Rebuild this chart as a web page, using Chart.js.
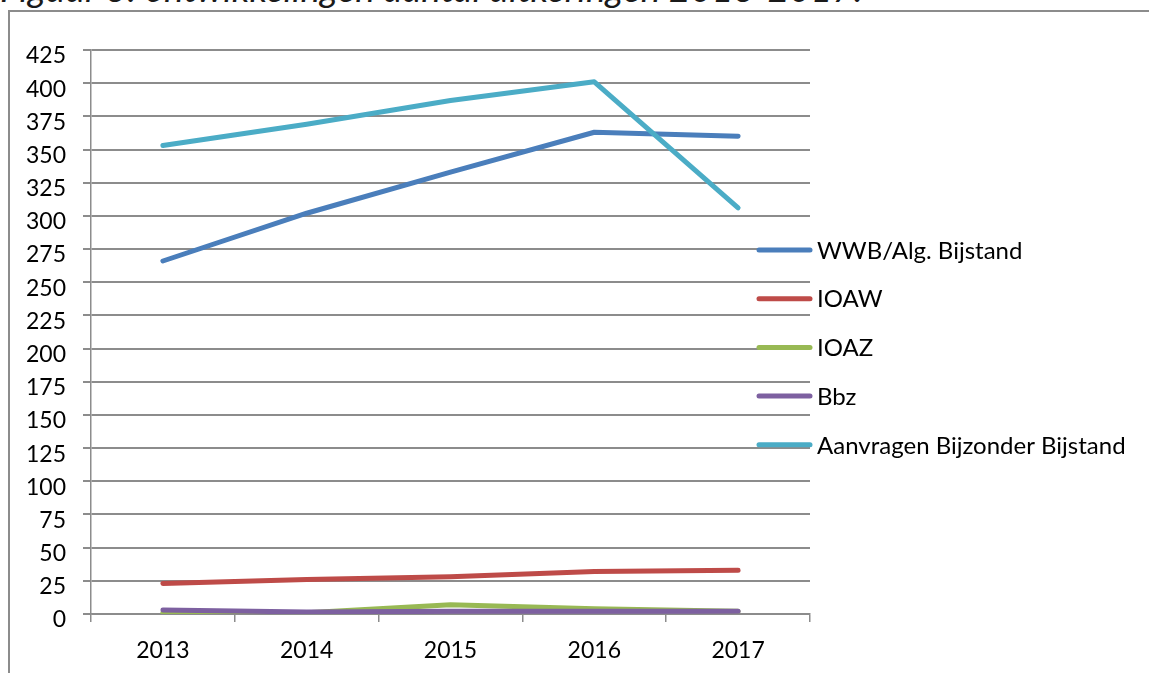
<!DOCTYPE html>
<html>
<head>
<meta charset="utf-8">
<script src="https://cdn.jsdelivr.net/npm/chart.js@4.4.1/dist/chart.umd.min.js"></script>
<style>
  html, body { margin: 0; padding: 0; background: #fff; overflow: hidden; }
  body { width: 1149px; height: 673px; position: relative; }
  #title {
    position: absolute; left: 0; top: -31px; white-space: nowrap;
    font: italic 37px Lato, "Open Sans", sans-serif; color: #1a1a1a; line-height: 1;
  }
  #frame {
    position: absolute; left: 8px; top: 10px; width: 1141px; height: 700px;
    border: 2px solid #8c8c8c; border-right: none; border-bottom: none; box-sizing: border-box;
  }
  #wrap { position: absolute; left: 0; top: 0; width: 1149px; height: 673px; }
</style>
</head>
<body>
<div id="title">Figuur 3: ontwikkelingen aantal uitkeringen 2013-2017.</div>
<div id="frame"></div>
<div id="wrap"><canvas id="chart"></canvas></div>
<script>
// categorieën en reeksen
const years = ['2013', '2014', '2015', '2016', '2017'];
const wwb = [266, 302, 333, 363, 360];
const ioaw = [23, 26, 28, 32, 33];
const ioaz = [1, 1, 7, 4, 2];
const bbz = [3, 1.5, 2, 2, 2];
const aanvragen = [353, 369, 387, 401, 306];

const seriesNames = ['WWB/Alg. Bijstand', 'IOAW', 'IOAZ', 'Bbz', 'Aanvragen Bijzonder Bijstand'];
const seriesData = [wwb, ioaw, ioaz, bbz, aanvragen];
const seriesColors = ['#4a7ebb', '#be4b48', '#98b954', '#7d60a0', '#4bacc6'];

// y-as
const yMin = 0;
const yMax = 425;
const yStep = 25;

const FONT = 'Lato, "Open Sans", sans-serif';

// legenda rechts, over het plotgebied heen (zoals in Excel)
const sideLegend = {
  id: 'sideLegend',
  afterDatasetsDraw(chart) {
    const ctx = chart.ctx;
    ctx.save();
    ctx.font = '24px ' + FONT;
    ctx.textBaseline = 'middle';
    ctx.textAlign = 'left';
    chart.data.datasets.forEach((ds, i) => {
      const y = 250 + i * 48.7;
      ctx.strokeStyle = ds.borderColor;
      ctx.lineWidth = 5;
      ctx.lineCap = 'round';
      ctx.beginPath();
      ctx.moveTo(759, y);
      ctx.lineTo(810, y);
      ctx.stroke();
      ctx.fillStyle = '#000';
      ctx.fillText(ds.label, 817, y + 1);
    });
    ctx.restore();
  }
};

new Chart(document.getElementById('chart'), {
  type: 'line',
  data: {
    labels: years,
    datasets: seriesNames.map((name, i) => ({
      label: name,
      data: seriesData[i],
      borderColor: seriesColors[i],
      backgroundColor: seriesColors[i],
      borderWidth: 5,
      borderCapStyle: 'round',
      borderJoinStyle: 'round',
      pointRadius: 0,
      tension: 0,
      order: seriesNames.length - 1 - i
    }))
  },
  options: {
    responsive: true,
    maintainAspectRatio: false,
    animation: false,
    layout: { padding: { left: 0, right: 339, top: 50, bottom: 0 } },
    plugins: {
      legend: { display: false },
      tooltip: { enabled: false }
    },
    scales: {
      x: {
        offset: true,
        grid: {
          offset: true,
          drawOnChartArea: false,
          drawTicks: true,
          tickLength: 8,
          color: '#8c8c8c',
          lineWidth: 1.5
        },
        border: { color: '#8c8c8c', width: 1.5 },
        ticks: { color: '#000', padding: 15, font: { family: FONT, size: 23 } },
        afterFit(scale) { scale.height = 59; }
      },
      y: {
        min: yMin,
        max: yMax,
        ticks: { stepSize: yStep, color: '#000', padding: 17, labelOffset: 6, font: { family: FONT, size: 23 } },
        grid: {
          color: '#8c8c8c',
          lineWidth: 2,
          tickLength: 8
        },
        border: { color: '#8c8c8c', width: 1.5 },
        afterFit(scale) { scale.width = 91; }
      }
    }
  },
  plugins: [sideLegend]
});
</script>
</body>
</html>
